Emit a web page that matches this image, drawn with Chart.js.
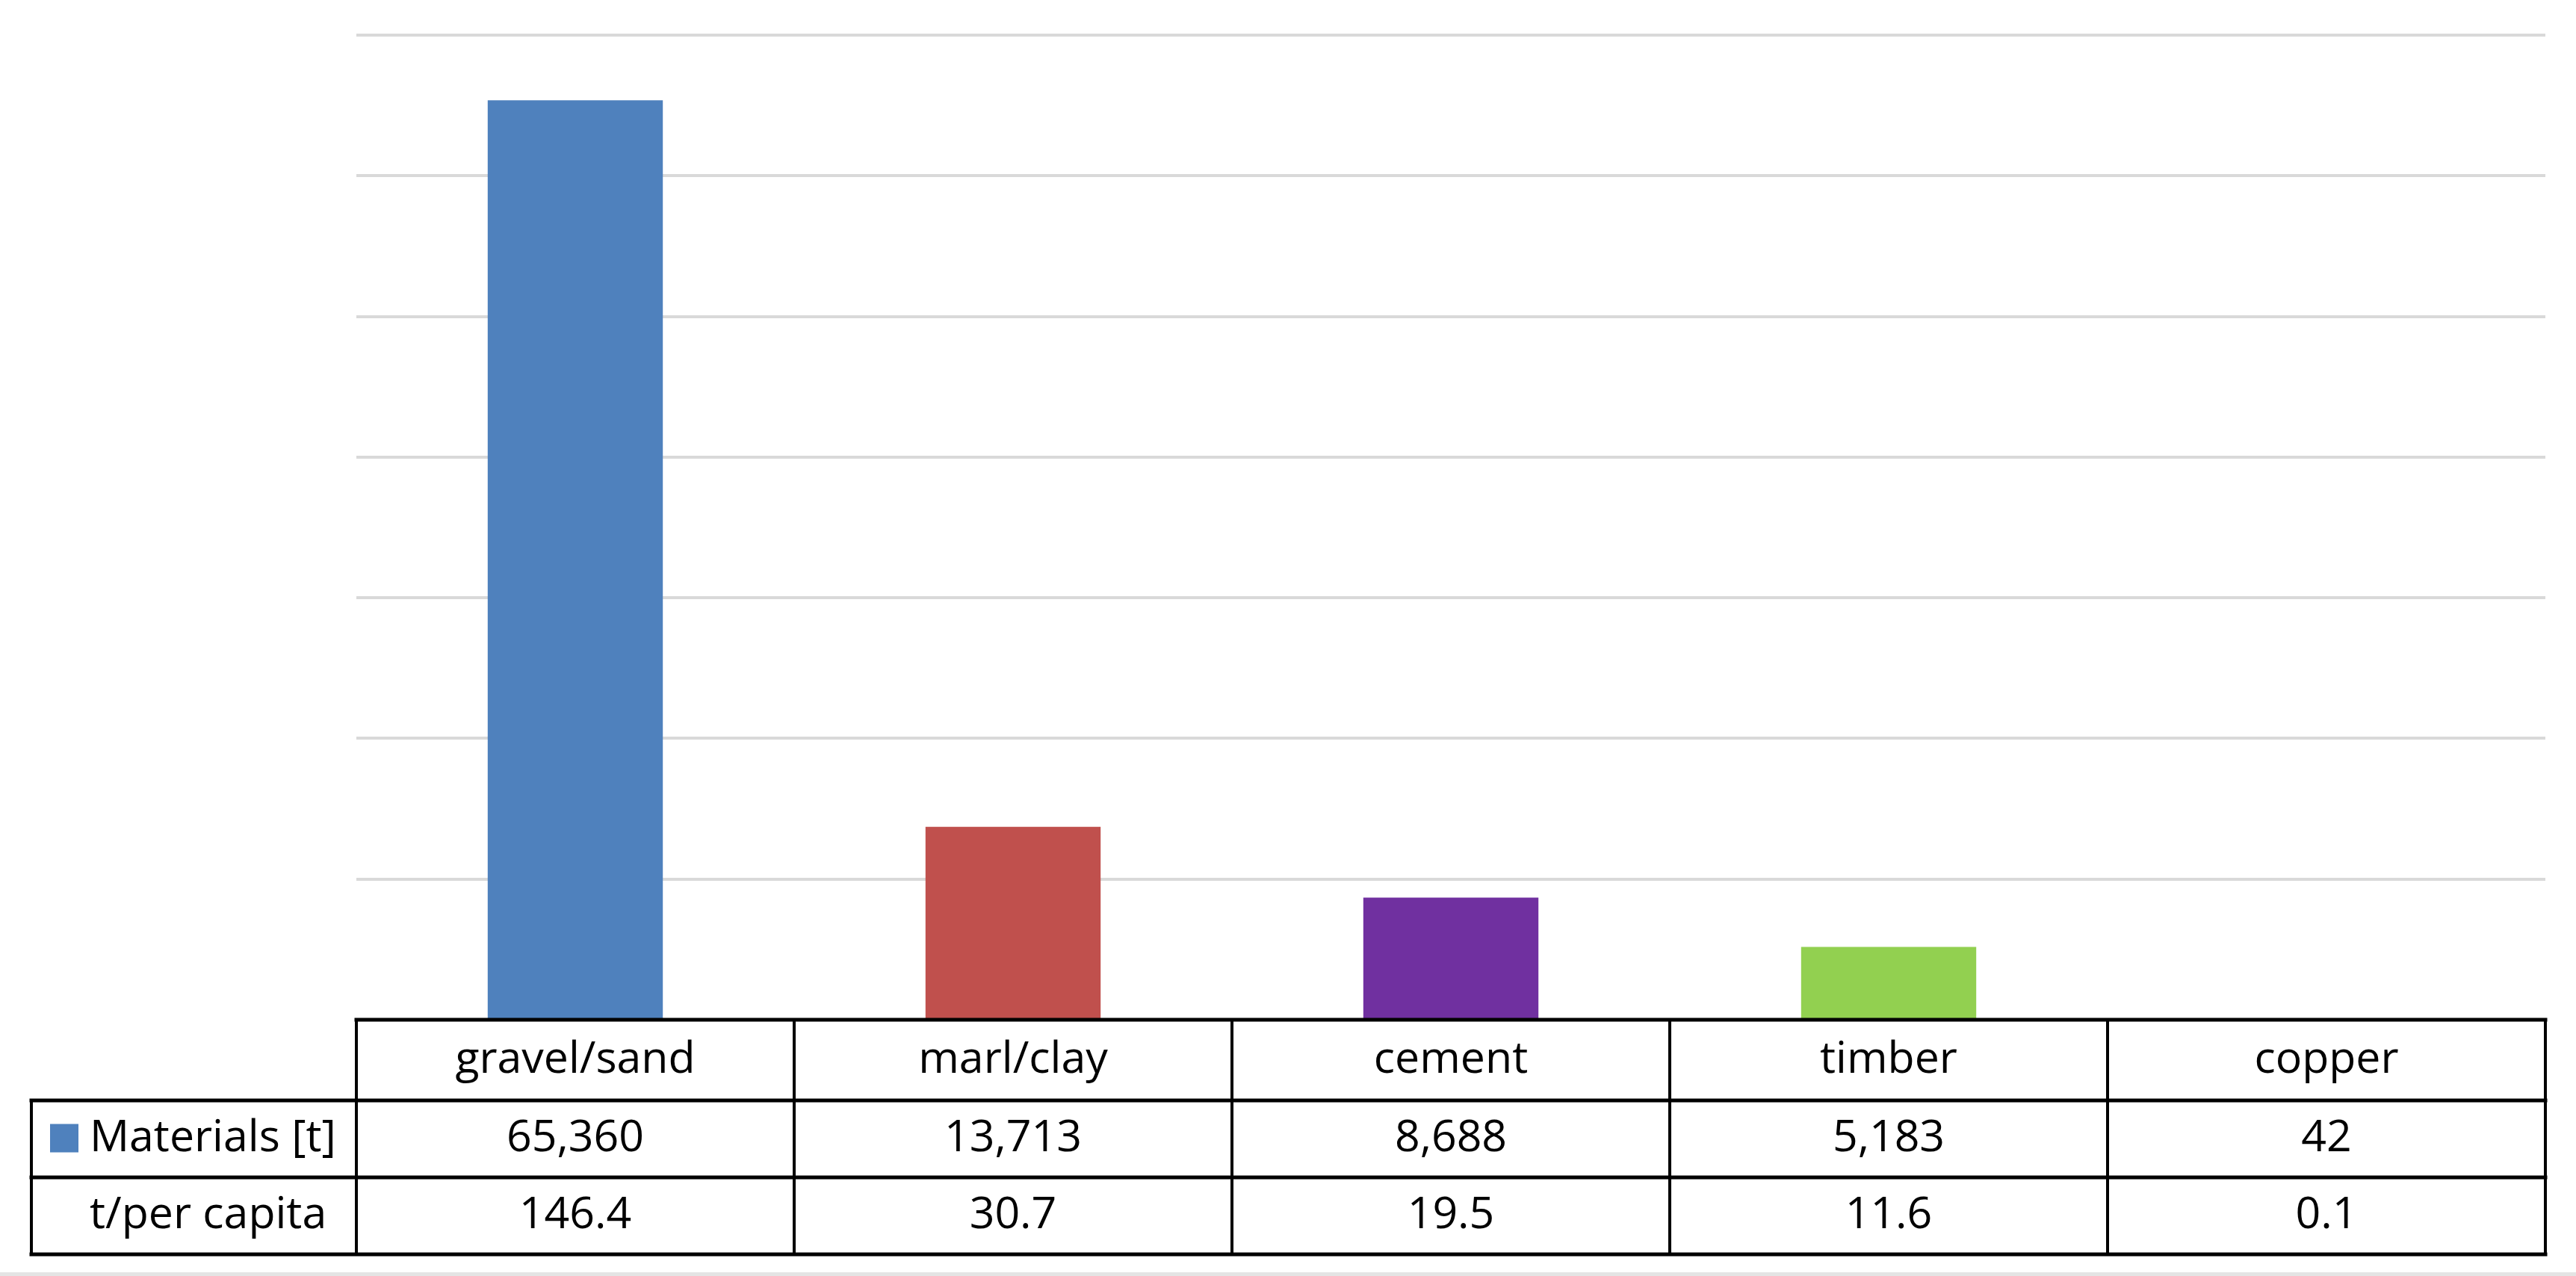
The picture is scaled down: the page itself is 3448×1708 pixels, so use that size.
<!DOCTYPE html>
<html>
<head>
<meta charset="utf-8">
<script src="https://cdn.jsdelivr.net/npm/chart.js@4.4.0/dist/chart.umd.min.js"></script>
<style>
  html, body { margin: 0; padding: 0; background: #ffffff; }
  #wrap { width: 3448px; height: 1708px; position: relative; }
</style>
</head>
<body>
<div id="wrap"><canvas id="c" width="3448" height="1708"></canvas></div>
<script>
const categories = ["gravel/sand", "marl/clay", "cement", "timber", "copper"];
const materials = [65360, 13713, 8688, 5183, 42];
const perCapita = [146.4, 30.7, 19.5, 11.6, 0.1];
const barColors = ["#4F81BD", "#C0504D", "#7030A0", "#92D050", "#F79646"];
const seriesName = "Materials [t]";
const secondRowName = "t/per capita";
const yMax = 70000;
const yStep = 10000;

const FONT = '59px "Open Sans", "Noto Sans", sans-serif';

const tablePlugin = {
  id: 'dataTable',
  afterDraw(chart) {
    const ctx = chart.ctx;
    const xs = chart.scales.x;
    const area = chart.chartArea;
    const n = categories.length;
    const top = area.bottom;
    const r1 = top + 108;
    const r2 = r1 + 103;
    const r3 = r2 + 103;
    const leftOuter = 42;
    const colEdges = [];
    for (let i = 0; i <= n; i++) {
      if (i === 0) colEdges.push(area.left);
      else if (i === n) colEdges.push(area.right);
      else colEdges.push((xs.getPixelForValue(i - 1) + xs.getPixelForValue(i)) / 2);
    }
    ctx.save();
    // bottom light border
    ctx.fillStyle = '#E4E4E4';
    ctx.fillRect(0, 1703, 3448, 5);

    ctx.strokeStyle = '#000000';
    ctx.lineCap = 'square';
    // horizontal lines
    ctx.lineWidth = 5;
    ctx.beginPath();
    ctx.moveTo(area.left, top); ctx.lineTo(area.right, top);
    ctx.moveTo(leftOuter, r1); ctx.lineTo(area.right, r1);
    ctx.moveTo(leftOuter, r2); ctx.lineTo(area.right, r2);
    ctx.moveTo(leftOuter, r3); ctx.lineTo(area.right, r3);
    ctx.stroke();
    // vertical lines
    ctx.lineWidth = 4;
    ctx.beginPath();
    ctx.moveTo(leftOuter, r1); ctx.lineTo(leftOuter, r3);
    for (const x of colEdges) { ctx.moveTo(x, top); ctx.lineTo(x, r3); }
    ctx.stroke();

    // text
    ctx.fillStyle = '#000000';
    ctx.font = FONT;
    ctx.textBaseline = 'middle';
    ctx.textAlign = 'center';
    const c0 = (top + r1) / 2, c1 = (r1 + r2) / 2, c2 = (r2 + r3) / 2;
    for (let i = 0; i < n; i++) {
      const cx = xs.getPixelForValue(i);
      ctx.fillText(categories[i], cx, c0);
      ctx.fillText(materials[i].toLocaleString('en-US'), cx, c1);
      ctx.fillText(perCapita[i].toFixed(1), cx, c2);
    }
    // row headers
    ctx.textAlign = 'left';
    ctx.fillStyle = barColors[0];
    ctx.fillRect(67, c1 - 20, 38, 38);
    ctx.fillStyle = '#000000';
    ctx.fillText(seriesName, 120, c1);
    ctx.fillText(secondRowName, 120, c2);
    ctx.restore();
  }
};

new Chart(document.getElementById('c'), {
  type: 'bar',
  data: {
    labels: categories,
    datasets: [{
      label: seriesName,
      data: materials,
      backgroundColor: barColors,
      borderWidth: 0,
      categoryPercentage: 1.0,
      barPercentage: 0.4
    }]
  },
  options: {
    responsive: false,
    animation: false,
    devicePixelRatio: 1,
    layout: { padding: { left: 477, right: 41, top: 47, bottom: 343 } },
    plugins: { legend: { display: false }, tooltip: { enabled: false } },
    scales: {
      x: { display: false },
      y: {
        min: 0, max: yMax,
        ticks: { display: false, stepSize: yStep },
        grid: { color: '#D9D9D9', lineWidth: 4, drawTicks: false },
        border: { display: false },
        afterFit(s) { s.width = 0; }
      }
    }
  },
  plugins: [tablePlugin]
});
</script>
</body>
</html>
